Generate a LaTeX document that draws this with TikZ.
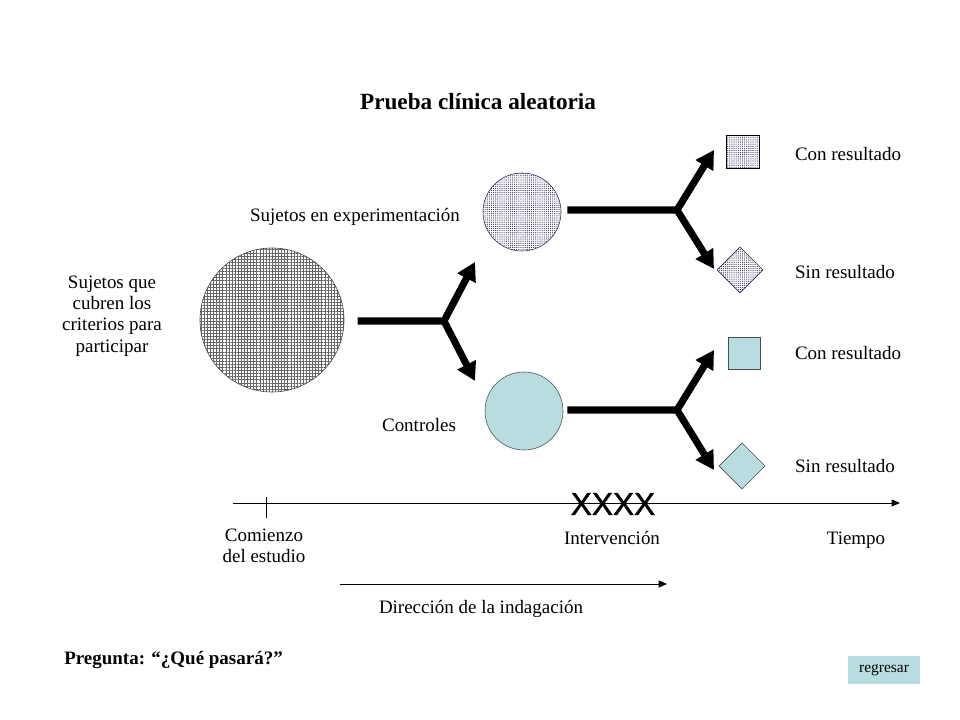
\documentclass[tikz,border=0pt]{standalone}
\usepackage{fontspec}
\setmainfont{Liberation Serif}
\newfontfamily\arialfont[FakeBold=1.2]{Liberation Sans}
\usetikzlibrary{patterns}
\usetikzlibrary{patterns.meta}
\usetikzlibrary{arrows.meta}
\usetikzlibrary{positioning}
\usetikzlibrary{math}
\usetikzlibrary{shapes.geometric}
\definecolor{paleblue}{RGB}{184,221,225}
\definecolor{dotnavy}{RGB}{45,45,85}
\tikzstyle{txt} = [font=\fontsize{13.5}{15.1}\selectfont, align=center, inner sep=0pt]
\tikzstyle{headline} = [font=\fontsize{16.5}{19}\selectfont\bfseries, inner sep=0pt]
\tikzstyle{question} = [font=\fontsize{13.5}{15}\selectfont\bfseries, inner sep=0pt]
\tikzstyle{xmark} = [font=\arialfont\fontsize{22.5}{24}\selectfont, inner sep=0pt]
\tikzstyle{popcirc} = [circle, draw=black!75, minimum size=3.6cm, inner sep=0pt, pattern={Hatch[angle=0, distance=2.2pt, line width=0.4pt]}, pattern color=black!60]
\tikzstyle{dotcirc} = [circle, draw=dotnavy, minimum size=1.95cm, inner sep=0pt, pattern={Dots[radius=0.42pt, distance=1.5pt]}, pattern color=dotnavy]
\tikzstyle{bluecirc} = [circle, draw=black!70, fill=paleblue, minimum size=1.95cm, inner sep=0pt]
\tikzstyle{dotsq} = [rectangle, draw=black, line width=0.6pt, minimum size=0.82cm, inner sep=0pt, pattern={Dots[radius=0.42pt, distance=1.5pt]}, pattern color=dotnavy]
\tikzstyle{dotdia} = [diamond, draw=dotnavy, minimum width=1.15cm, minimum height=1.15cm, inner sep=0pt, pattern={Dots[radius=0.42pt, distance=1.5pt]}, pattern color=dotnavy]
\tikzstyle{bluesq} = [rectangle, draw=black!70, fill=paleblue, minimum size=0.8cm, inner sep=0pt]
\tikzstyle{bluedia} = [diamond, draw=black!70, fill=paleblue, minimum width=1.15cm, minimum height=1.15cm, inner sep=0pt]
\tikzstyle{button} = [rectangle, fill=paleblue, minimum width=1.82cm, minimum height=0.72cm, font=\fontsize{11}{12}\selectfont]
\tikzstyle{bar} = [line width=5pt, line join=miter, -{Triangle[length=13pt, width=14pt]}]
\tikzstyle{arrow} = [line width=0.7pt, -{Triangle[length=6pt, width=5pt]}]

\begin{document}
\begin{tikzpicture}[x=0.025cm, y=-0.025cm]
  \useasboundingbox (0,0) rectangle (960,720);

  % Title
  \node[headline] (head) at (478,102) {Prueba clínica aleatoria};

  % Fig 1
  \node[popcirc] (pop) at (272,320) {};
  \node[txt] (poptext) at (112,316) {Sujetos que\\cubren los\\criterios para\\participar};

  % Fig 2
  \tikzmath{\ja = 444; \jb = 677;}
  \coordinate (j1) at (\ja,321);
  \coordinate (up1) at (\ja+31,262);
  \coordinate (dn1) at (\ja+31,381);
  \draw[bar] ([xshift=0.33cm]j1 -| pop.east) -- (j1) -- (up1);
  \draw[bar] (j1) -- (dn1);

  \node[dotcirc] (exp) at (522,212) {};
  \node[bluecirc] (ctrl) at (524,411) {};
  \node[txt] (explabel) at (355,217) {Sujetos en experimentación};
  \node[txt] (ctrllabel) at (419,425) {Controles};

  % Fig 3
  \coordinate (j2) at (\jb,210);
  \coordinate (up2) at (\jb+37,150);
  \coordinate (dn2) at (\jb+37,269);
  \draw[bar] ([xshift=0.15cm]j2 -| exp.east) -- (j2) -- (up2);
  \draw[bar] (j2) -- (dn2);

  \coordinate (j3) at (\jb,410);
  \coordinate (up3) at (\jb+37,350);
  \coordinate (dn3) at (\jb+37,470);
  \draw[bar] ([xshift=0.1cm]j3 -| ctrl.east) -- (j3) -- (up3);
  \draw[bar] (j3) -- (dn3);

  \node[dotsq] (expyes) at (743,152) {};
  \node[dotdia] (expno) at (740,270) {};
  \node[bluesq] (ctrlyes) at (744,353) {};
  \node[bluedia] (ctrlno) at (742,466) {};

  \node[txt] (yes1) at (848,154) {Con resultado};
  \node[txt] (no1) at (845,272) {Sin resultado};
  \node[txt] (yes2) at (848,353) {Con resultado};
  \node[txt] (no2) at (845,466) {Sin resultado};

  % Time axis
  \coordinate (t0) at (233,503);
  \coordinate (t1) at (900,503);
  \draw[arrow] (t0) -- (t1);
  \draw[line width=0.7pt] (266,497) -- (266,518);
  \node[xmark] (xx) at (613,504) {XXXX};
  \node[txt] (begin) at (264,546) {Comienzo\\del estudio};
  \node[txt] (interv) at (612,538) {Intervención};
  \node[txt] (time) at (856,540) {Tiempo};

  % Direction
  \coordinate (d0) at (340,584);
  \coordinate (d1) at (667,584);
  \draw[arrow] (d0) -- (d1);
  \node[txt] (dir) at (481,609) {Dirección de la indagación};

  \node[question, anchor=west] (ask) at (64,660) {Pregunta: “¿Qué pasará?”};
  \node[button] (back) at (884,670) {regresar};

\end{tikzpicture}
\end{document}
